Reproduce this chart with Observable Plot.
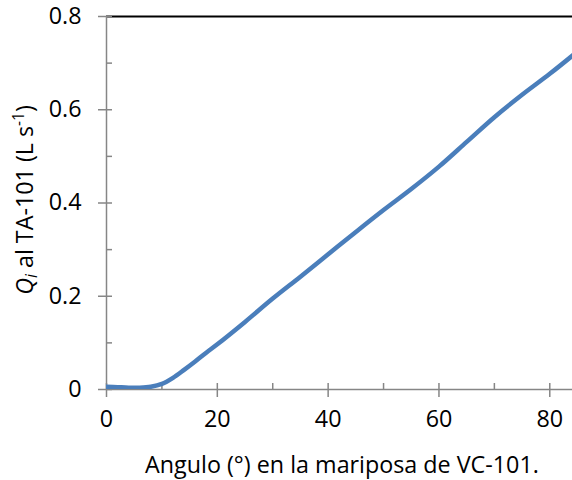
<!DOCTYPE html>
<html>
<head>
<meta charset="utf-8">
<script src="https://cdn.jsdelivr.net/npm/d3@7"></script>
<script src="https://cdn.jsdelivr.net/npm/@observablehq/plot@0.6"></script>
<style>
  html, body { margin: 0; padding: 0; background: #fff; }
</style>
</head>
<body>
<div id="chart"></div>
<script>
const angle = [0, 2, 4, 6, 8, 10, 12, 14, 16, 18, 20, 25, 30, 35, 40, 45, 50, 55, 60, 65, 70, 75, 80, 84.5];
const flow  = [0.006, 0.005, 0.004, 0.004, 0.006, 0.012, 0.025, 0.042, 0.06, 0.079, 0.097, 0.145, 0.195, 0.242, 0.29, 0.338, 0.385, 0.43, 0.478, 0.531, 0.584, 0.632, 0.677, 0.72];
const xMajor = [0, 20, 40, 60, 80];
const xMinor = [0, 10, 20, 30, 40, 50, 60, 70, 80];
const yMajor = [0, 0.2, 0.4, 0.6, 0.8];
const yMinor = [0, 0.1, 0.2, 0.3, 0.4, 0.5, 0.6, 0.7, 0.8];
const xLabel = "Angulo (°) en la mariposa de VC-101.";

const data = angle.map((a, i) => ({angle: a, flow: flow[i]}));
const axisColor = "#868686";
const FONT = "'Open Sans', sans-serif";
const FS = 23.3;

const chart = Plot.plot({
  width: 572,
  height: 480,
  marginLeft: 106,
  marginTop: 16,
  marginBottom: 91,
  marginRight: 0,
  style: {fontFamily: FONT, fontSize: FS + "px", color: "#000", background: "#fff"},
  x: {domain: [0, 84.1]},
  y: {domain: [0, 0.8]},
  marks: [
    Plot.ruleY([0.8], {stroke: "#000", strokeWidth: 2}),
    Plot.axisX(xMinor, {tickSize: -6, stroke: axisColor, strokeWidth: 1.5, text: null, label: null}),
    Plot.axisX(xMajor, {tickSize: 8, tickPadding: 13, stroke: axisColor, strokeWidth: 1.5, fill: "#000", label: null, fontSize: FS, tickFormat: d => String(d)}),
    Plot.axisY(yMinor, {tickSize: -6, stroke: axisColor, strokeWidth: 1.5, text: null, label: null}),
    Plot.axisY(yMajor, {tickSize: 8, tickPadding: 17, stroke: axisColor, strokeWidth: 1.5, fill: "#000", label: null, fontSize: FS, tickFormat: d => d === 0 ? "0" : d3.format(".1f")(d)}),
    Plot.ruleY([0], {stroke: axisColor, strokeWidth: 1.5}),
    Plot.ruleX([0], {stroke: axisColor, strokeWidth: 1.5}),
    Plot.line(data, {x: "angle", y: "flow", stroke: "#4a7ebb", strokeWidth: 4.5, curve: "catmull-rom", clip: true})
  ]
});

const svg = d3.select(chart);
// X axis title
svg.append("text")
  .attr("x", 342).attr("y", 473)
  .attr("text-anchor", "middle")
  .attr("font-family", FONT).attr("font-size", FS).attr("fill", "#000")
  .text(xLabel);
// Y axis title with rich text
const yt = svg.append("text")
  .attr("transform", "translate(33,200) rotate(-90)")
  .attr("text-anchor", "middle")
  .attr("font-family", FONT).attr("font-size", FS).attr("fill", "#000");
yt.append("tspan").attr("font-style", "italic").text("Q");
yt.append("tspan").attr("font-style", "italic").attr("font-size", 15.5).attr("dy", 4).text("i");
yt.append("tspan").attr("dy", -4).text(" al TA-101 (L s");
yt.append("tspan").attr("font-size", 15.5).attr("dy", -9).text("-1");
yt.append("tspan").attr("dy", 9).text(")");

document.getElementById("chart").appendChild(chart);
</script>
</body>
</html>
